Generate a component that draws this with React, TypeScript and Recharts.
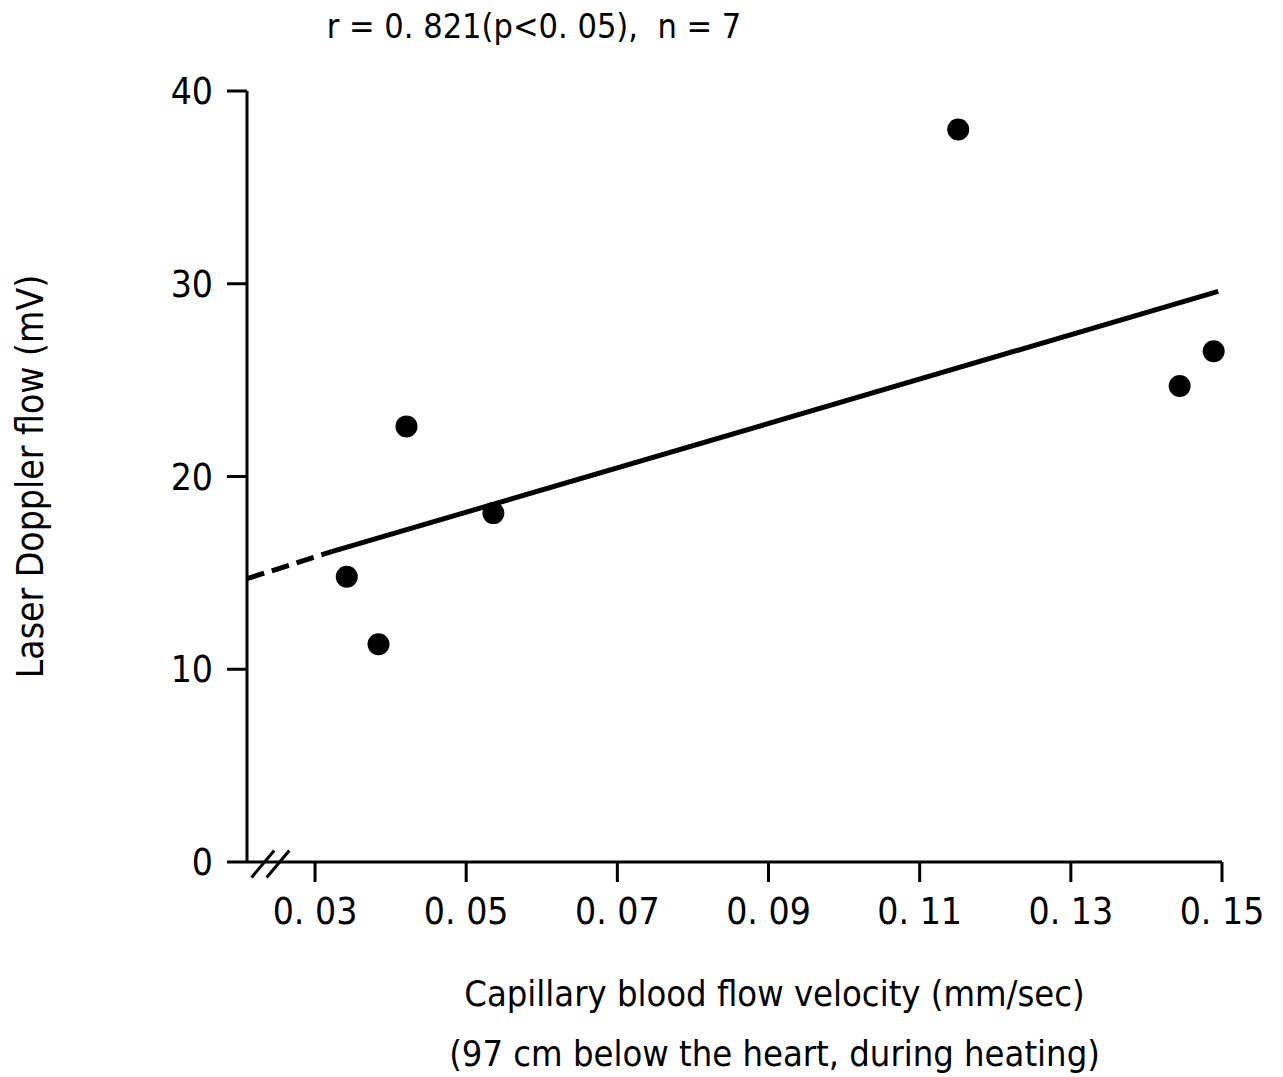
import { ScatterChart, Scatter, XAxis, YAxis, ReferenceLine } from "recharts"

const velocity = [0.0342, 0.0384, 0.0421, 0.0536, 0.1151, 0.1444, 0.1489]
const dopplerFlow = [14.8, 11.3, 22.6, 18.1, 38.0, 24.7, 26.5]

const fitDashedX = [0.021, 0.0322]
const fitDashedY = [14.7, 16.1]
const fitSolidX = [0.0322, 0.1495]
const fitSolidY = [16.1, 29.6]

const xTicks = [0.03, 0.05, 0.07, 0.09, 0.11, 0.13, 0.15]
const yTicks = [0, 10, 20, 30, 40]

const points = velocity.map((x, i) => ({ x, y: dopplerFlow[i] }))
const fitDashed = fitDashedX.map((x, i) => ({ x, y: fitDashedY[i] }))
const fitSolid = fitSolidX.map((x, i) => ({ x, y: fitSolidY[i] }))

const FONT = "'DejaVu Sans Condensed', 'DejaVu Sans', sans-serif"
const INK = "#000"

const fmtX = (v: number) => v.toFixed(2).replace(".", ". ")

function XLabel(props: any) {
  const { viewBox } = props
  const cx = viewBox.x + viewBox.width / 2 + 40
  return (
    <g>
      <text x={cx} y={1006} textAnchor="middle" fontSize={36} fontFamily={FONT} fill={INK}>
        Capillary blood flow velocity (mm/sec)
      </text>
      <text x={cx} y={1066} textAnchor="middle" fontSize={36} fontFamily={FONT} fill={INK}>
        (97 cm below the heart, during heating)
      </text>
    </g>
  )
}

function YLabel(props: any) {
  const { viewBox } = props
  const cy = viewBox.y + viewBox.height / 2
  return (
    <text x={30} y={cy} transform={`rotate(-90, 30, ${cy})`} textAnchor="middle" dominantBaseline="central" fontSize={37} fontFamily={FONT} fill={INK}>
      Laser Doppler flow (mV)
    </text>
  )
}

export default function App() {
  return (
    <div style={{ position: "absolute", left: 0, top: 0, width: 1283, height: 1077, background: "#fff" }}>
      <div style={{ position: "absolute", left: 0, width: 1068, top: 6, textAlign: "center", fontFamily: FONT, fontSize: 34, color: INK }}>
        r = 0. 821(p&lt;0. 05),&nbsp;&nbsp;n = 7
      </div>
      <ScatterChart width={1283} height={1077} margin={{ top: 91, right: 61, bottom: 0, left: 0 }}>
        <XAxis
          type="number"
          dataKey="x"
          domain={[0.021, 0.15]}
          ticks={xTicks}
          tickFormatter={fmtX}
          height={215}
          stroke={INK}
          strokeWidth={3}
          tickSize={20}
          tickMargin={16}
          tick={{ fill: INK, fontSize: 37, fontFamily: FONT }}
          label={<XLabel />}
        />
        <YAxis
          type="number"
          dataKey="y"
          domain={[0, 40]}
          ticks={yTicks}
          width={247}
          stroke={INK}
          strokeWidth={3}
          tickSize={20}
          tickMargin={14}
          tick={{ fill: INK, fontSize: 37, fontFamily: FONT }}
          label={<YLabel />}
        />
        <ReferenceLine segment={[{ x: 0.0216, y: -0.8 }, { x: 0.0246, y: 0.6 }]} stroke={INK} strokeWidth={3} ifOverflow="visible" />
        <ReferenceLine segment={[{ x: 0.0236, y: -0.8 }, { x: 0.0266, y: 0.6 }]} stroke={INK} strokeWidth={3} ifOverflow="visible" />
        <Scatter data={fitDashed} line={{ stroke: INK, strokeWidth: 5, strokeDasharray: "18 8" }} shape={() => null} isAnimationActive={false} />
        <Scatter data={fitSolid} line={{ stroke: INK, strokeWidth: 5 }} shape={() => null} isAnimationActive={false} />
        <Scatter data={points} fill={INK} shape={(p: any) => <circle cx={p.cx} cy={p.cy} r={11} fill={INK} />} isAnimationActive={false} />
      </ScatterChart>
    </div>
  )
}
